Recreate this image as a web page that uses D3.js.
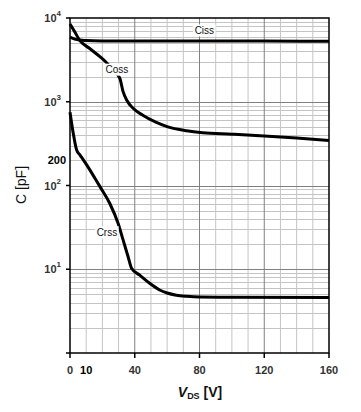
<!DOCTYPE html>
<html><head><meta charset="utf-8">
<script src="https://cdn.jsdelivr.net/npm/d3@7"></script>
<style>
html,body{margin:0;padding:0;background:#fff;}
svg{display:block;font-family:Arial,"Liberation Sans",sans-serif;}
</style></head>
<body><svg id="chart" width="361" height="412"></svg>
<script>
// ---- data ----
const cissV = [0, 3, 6, 10, 20, 40, 80, 120, 160];
const cissC = [5900, 5600, 5450, 5380, 5320, 5300, 5300, 5300, 5280];

const cossV = [0, 3, 6, 12, 18.5, 22, 27, 30.8, 32.8, 35, 39, 45, 53, 60, 72, 82, 100, 120, 140, 160];
const cossC = [8500, 6800, 5400, 4350, 3450, 3000, 2350, 1900, 1320, 1050, 835, 690, 570, 505, 451, 427, 410, 390, 368, 345];

const crssV = [0, 2, 4.1, 6.2, 10.3, 15.4, 18.5, 24.6, 29.7, 32.8, 35.9, 38, 43.1, 49.2, 55.4, 60, 65.7, 72, 80, 100, 160];
const crssC = [750, 420, 265, 231, 176, 122, 97, 61, 35.4, 22.4, 14.1, 10.3, 8.5, 6.8, 5.65, 5.2, 4.9, 4.75, 4.65, 4.62, 4.6];

const xTicks = [0, 10, 40, 80, 120, 160];
const yDecades = [1, 2, 3, 4]; // exponents labelled 10^n
const curveLabels = ["Ciss", "Coss", "Crss"];
const labelAt = [[83, 7200], [29, 2450], [22.8, 28]]; // [V, C] label anchors

// ---- layout ----
const svg = d3.select("#chart");
const L = 70, R = 329, T = 18, B = 353;
const x = d3.scaleLinear().domain([0, 160]).range([L, R]);
const y = d3.scaleLog().domain([1, 10000]).range([B, T]);

const g = svg.append("g");

// minor vertical grid every 10 V
const vMinor = d3.range(10, 160, 10).filter(v => v % 40 !== 0);
g.selectAll(".vmin").data(vMinor).enter().append("line")
  .attr("x1", d => x(d)).attr("x2", d => x(d)).attr("y1", T).attr("y2", B)
  .attr("stroke", "#c4c4c4").attr("stroke-width", 1);
// minor horizontal grid (2..9 of each decade)
const hMinor = [];
for (let e = 0; e < 4; e++) for (let k = 2; k <= 9; k++) hMinor.push(k * Math.pow(10, e));
g.selectAll(".hmin").data(hMinor).enter().append("line")
  .attr("x1", L).attr("x2", R).attr("y1", d => Math.round(y(d)) + 0.5).attr("y2", d => Math.round(y(d)) + 0.5)
  .attr("stroke", "#c4c4c4").attr("stroke-width", 1);
// major grid
g.selectAll(".vmaj").data([40, 80, 120]).enter().append("line")
  .attr("x1", d => x(d)).attr("x2", d => x(d)).attr("y1", T).attr("y2", B)
  .attr("stroke", "#808080").attr("stroke-width", 1);
g.selectAll(".hmaj").data([10, 100, 1000]).enter().append("line")
  .attr("x1", L).attr("x2", R).attr("y1", d => Math.round(y(d)) + 0.5).attr("y2", d => Math.round(y(d)) + 0.5)
  .attr("stroke", "#808080").attr("stroke-width", 1);

// frame
g.append("rect").attr("x", L).attr("y", T).attr("width", R - L).attr("height", B - T)
  .attr("fill", "none").attr("stroke", "#000").attr("stroke-width", 1.5);

// ticks
g.selectAll(".xt").data([0, 40, 80, 120, 160]).enter().append("line")
  .attr("x1", d => x(d)).attr("x2", d => x(d)).attr("y1", B).attr("y2", B + 5)
  .attr("stroke", "#000").attr("stroke-width", 1.5);
g.selectAll(".yt").data([1, 10, 100, 1000, 10000]).enter().append("line")
  .attr("x1", L - 4).attr("x2", L).attr("y1", d => y(d)).attr("y2", d => y(d))
  .attr("stroke", "#000").attr("stroke-width", 1.5);

// curves
const line = d3.line().x(d => x(d[0])).y(d => y(d[1])).curve(d3.curveMonotoneX);
const series = [d3.zip(cissV, cissC), d3.zip(cossV, cossC), d3.zip(crssV, crssC)];
g.selectAll(".curve").data(series).enter().append("path")
  .attr("d", line).attr("fill", "none").attr("stroke", "#000")
  .attr("stroke-width", 3).attr("stroke-linejoin", "round");

// curve labels with white background
curveLabels.forEach((t, i) => {
  const cx = x(labelAt[i][0]), cy = y(labelAt[i][1]);
  const txt = g.append("text").attr("x", cx).attr("y", cy + 4)
    .attr("text-anchor", "middle").attr("font-size", 10).attr("fill", "#111").text(t);
  const bb = txt.node().getBBox();
  g.insert("rect", function(){ return txt.node(); })
    .attr("x", bb.x - 1.5).attr("y", bb.y - 0.5).attr("width", bb.width + 3).attr("height", bb.height + 1)
    .attr("fill", "#fff");
});

// x tick labels
g.selectAll(".xl").data(xTicks).enter().append("text")
  .attr("x", d => x(d)).attr("y", 374).attr("text-anchor", "middle")
  .attr("font-size", 11).attr("font-weight", "bold")
  .attr("fill", d => d === 10 ? "#000" : "#333").text(d => d);

// y tick labels 10^n
yDecades.forEach(e => {
  const t = g.append("text").attr("x", 61).attr("y", y(Math.pow(10, e)) + 4)
    .attr("text-anchor", "end").attr("font-size", 11).attr("font-weight", "bold").attr("fill", "#333");
  t.append("tspan").text("10");
  t.append("tspan").attr("font-size", 8).attr("dy", -6).text(e);
});
g.append("text").attr("x", 66).attr("y", y(200) + 4).attr("text-anchor", "end")
  .attr("font-size", 11).attr("font-weight", "bold").attr("fill", "#000").text("200");

// axis titles
const xt = g.append("text").attr("x", 200).attr("y", 397).attr("text-anchor", "middle")
  .attr("font-size", 14).attr("fill", "#111");
xt.append("tspan").attr("font-style", "italic").attr("font-weight", "bold").text("V");
xt.append("tspan").attr("font-size", 9).attr("font-weight", "bold").attr("dy", 2).text("DS");
xt.append("tspan").attr("dy", -2).attr("font-weight", "bold").text(" [V]");

g.append("text").attr("transform", "translate(26,185) rotate(-90)").attr("text-anchor", "middle")
  .attr("font-size", 14).attr("fill", "#111").text("C [pF]");
</script></body></html>
